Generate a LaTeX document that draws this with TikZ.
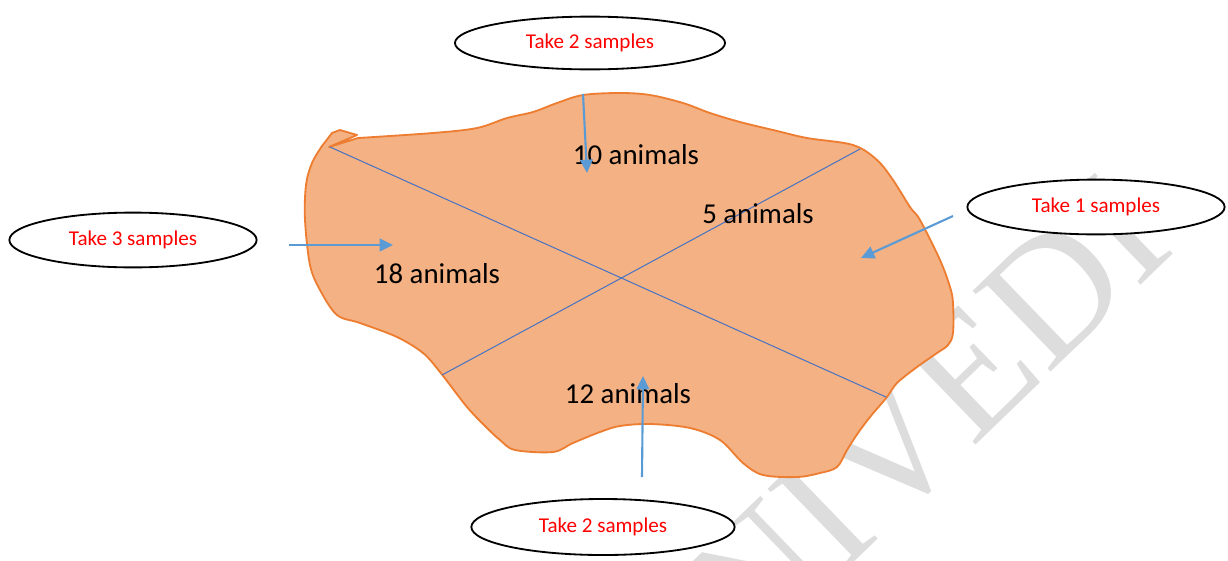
\documentclass[tikz,border=0pt]{standalone}
\usepackage{fontspec}
\setmainfont{Carlito}
\newfontfamily\wmfont{Liberation Serif}
\usetikzlibrary{arrows.meta,shapes.geometric}
\definecolor{feld}{HTML}{F4B183}
\definecolor{feldrand}{HTML}{ED7D31}
\definecolor{pfeil}{HTML}{5B9BD5}
\definecolor{teil}{HTML}{4472C4}
\definecolor{wgrau}{HTML}{DDDDDD}
\tikzset{
  probe/.style={ellipse,draw=black,line width=1.3pt,fill=white,inner sep=0pt,text=red,font=\fontsize{15}{18}\selectfont},
  pf/.style={-{Triangle[length=9.5pt,width=9pt]},pfeil,line width=1.5pt},
  teilung/.style={teil,line width=0.7pt},
  anz/.style={font=\fontsize{20.5}{24}\selectfont,inner sep=0pt},
  gebiet/.style={fill=feld,draw=feldrand,line width=1.3pt,line join=round},
  wz/.style={wgrau,font=\wmfont\fontsize{122}{126}\selectfont,inner sep=0pt},
}

\begin{document}
\begin{tikzpicture}[x=0.025cm,y=-0.025cm]
  \useasboundingbox (0,0) rectangle (1228,560);
  \clip (0,0) rectangle (1228,560);
  \node[wz,rotate=44,anchor=base east] (wm) at (1178,250) {NIVEDI};

  \draw[gebiet] plot[smooth,tension=0.55] coordinates {
    (358,138) (433,133) (477,128) (507,118) (533,112) (557,103) (583,95)
    (620,93) (650,95) (683,103) (710,113) (740,122) (773,130) (807,138)
    (853,145) (877,160) (893,180) (910,207) (920,220) (940,260) (950,287)
    (953,303) (953,333) (948,345) (937,353) (917,367) (897,383) (887,397)
    (870,417) (858,433) (847,450) (837,467) (820,473) (797,477) (763,475)
    (743,463) (720,440) (690,428) (650,424) (620,426) (600,432) (573,443)
    (553,452) (515,450) (500,440) (487,428) (467,407) (440,372) (423,353)
    (397,337) (360,323) (337,315) (320,290) (310,265) (305,220) (306,185)
    (312,163) (322,146)}
    -- (332,133) -- (340,130) -- (357,135) -- (329,147) -- cycle;

  \coordinate (d1a) at (330,147);
  \coordinate (d1b) at (886,397);
  \coordinate (d2a) at (860,149);
  \coordinate (d2b) at (442,375);
  \draw[teilung] (d1a) -- (d1b);
  \draw[teilung] (d2a) -- (d2b);

  \node[anz] (n10) at (636,155) {10 animals};
  \node[anz] (n5) at (758,214) {5 animals};
  \node[anz] (n18) at (437,274) {18 animals};
  \node[anz] (n12) at (628,394) {12 animals};

  \node[probe,minimum width=6.75cm,minimum height=1.32cm] (pt) at (590,43) {Take 2 samples};
  \node[probe,minimum width=6.43cm,minimum height=1.37cm] (pr) at (1096,207) {Take 1 samples};
  \node[probe,minimum width=6.18cm,minimum height=1.37cm] (pl) at (133,240) {Take 3 samples};
  \node[probe,minimum width=6.58cm,minimum height=1.40cm] (pb) at (603,527) {Take 2 samples};

  \coordinate (at0) at (583,94);
  \coordinate (at1) at (587,173);
  \coordinate (ar0) at (953,216);
  \coordinate (ar1) at (861,258);
  \coordinate (al0) at (289,245);
  \coordinate (al1) at (393,245);
  \coordinate (ab0) at (642,477);
  \coordinate (ab1) at (643,376);
  \draw[pf] (at0) -- (at1);
  \draw[pf] (ar0) -- (ar1);
  \draw[pf] (al0) -- (al1);
  \draw[pf] (ab0) -- (ab1);
\end{tikzpicture}
\end{document}
